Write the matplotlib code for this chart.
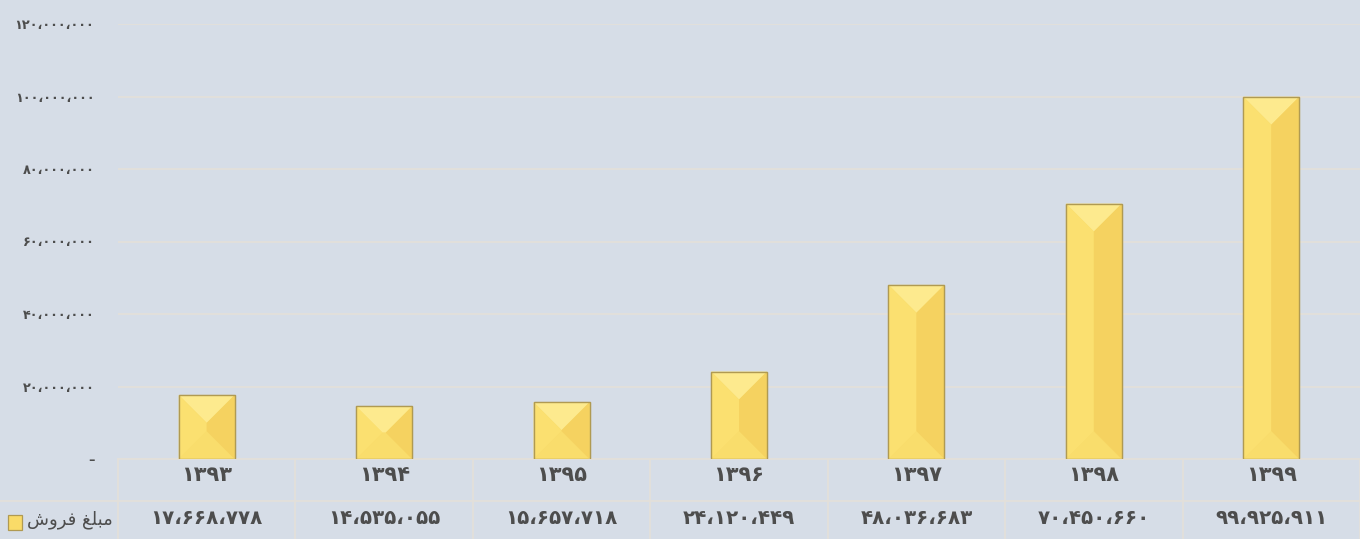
import matplotlib
matplotlib.use("Agg")
import matplotlib.pyplot as plt
from matplotlib.patches import Polygon, Rectangle

plt.rcParams['font.family'] = ['DejaVu Sans']

# chart data
years = ['۱۳۹۳', '۱۳۹۴', '۱۳۹۵', '۱۳۹۶', '۱۳۹۷', '۱۳۹۸', '۱۳۹۹']
sales = [17668778, 14535055, 15657718, 24120449, 48036683, 70450660, 99925911]
sales_labels = ['۱۷،۶۶۸،۷۷۸', '۱۴،۵۳۵،۰۵۵', '۱۵،۶۵۷،۷۱۸', '۲۴،۱۲۰،۴۴۹',
                '۴۸،۰۳۶،۶۸۳', '۷۰،۴۵۰،۶۶۰', '۹۹،۹۲۵،۹۱۱']
y_ticks = [0, 20000000, 40000000, 60000000, 80000000, 100000000, 120000000]
y_tick_labels = ['–', '۲۰،۰۰۰،۰۰۰', '۴۰،۰۰۰،۰۰۰', '۶۰،۰۰۰،۰۰۰', '۸۰،۰۰۰،۰۰۰',
                 '۱۰۰،۰۰۰،۰۰۰', '۱۲۰،۰۰۰،۰۰۰']
# "مبلغ فروش" in presentation forms (matplotlib does no Arabic shaping)
series_name = '\uFEB5\uFEED\uFEAE\uFED3 \uFECE\uFEE0\uFE92\uFEE3'

bg = '#d6dde7'
grid_c = '#e3e0da'
text_c = '#4d4d4d'
bar_c = '#fadb68'
edge_c = '#b09a52'

W, H = 1360, 539
fig = plt.figure(figsize=(W / 100, H / 100), dpi=100, facecolor=bg)
ax_left, ax_right, ax_top, ax_bot = 118, 1360, 24, 459
ax = fig.add_axes([ax_left / W, 1 - ax_bot / H, (ax_right - ax_left) / W, (ax_bot - ax_top) / H])
ax.set_facecolor(bg)

n = len(years)
ax.set_xlim(-0.5, n - 0.5)
ax.set_ylim(0, 120000000)
for s in ax.spines.values():
    s.set_visible(False)

ax.set_yticks(y_ticks)
ax.set_yticklabels(y_tick_labels, fontsize=9.3, fontweight='bold', color=text_c)
ax.tick_params(axis='y', length=0, pad=17)
ax.set_xticks([])
ax.yaxis.grid(True, color=grid_c, linewidth=1.3)
ax.set_axisbelow(True)

bars = ax.bar(range(n), sales, width=0.315, color=bar_c,
              edgecolor=edge_c, linewidth=0.8, zorder=2)

# pixel scale for the bevel
p0 = ax.transData.transform((0, 0))
p1 = ax.transData.transform((1, 1e7))
px_x = p1[0] - p0[0]
px_y = (p1[1] - p0[1]) / 1e7

face_cols = {'top': '#fdea8e', 'left': '#fbe070', 'right': '#f5d260', 'bottom': '#f9dd6c'}
for b in bars:
    x0, w, h = b.get_x(), b.get_width(), b.get_height()
    x1 = x0 + w
    e_px = min(w * px_x, h * px_y) / 2
    ex, ey = e_px / px_x, e_px / px_y
    tl, tr, bl, br = (x0, h), (x1, h), (x0, 0), (x1, 0)
    itl, itr = (x0 + ex, h - ey), (x1 - ex, h - ey)
    ibl, ibr = (x0 + ex, ey), (x1 - ex, ey)
    faces = {'top': [tl, tr, itr, itl], 'bottom': [bl, br, ibr, ibl],
             'left': [tl, itl, ibl, bl], 'right': [tr, itr, ibr, br]}
    for k, pts in faces.items():
        ax.add_patch(Polygon(pts, closed=True, facecolor=face_cols[k],
                             edgecolor='none', zorder=3))
    ax.add_patch(Rectangle((x0, 0), w, h, fill=False, edgecolor=edge_c,
                           linewidth=1.0, zorder=4))

# data table below the plot
tf = ax.get_xaxis_transform()
ah = ax_bot - ax_top
row1_y = -(475 - ax_bot) / ah
row2_y = -(519 - ax_bot) / ah
bottom = -(H - ax_bot) / ah

ax.plot([-0.5, n - 0.5], [0, 0], transform=tf, color=grid_c, lw=1.3, clip_on=False)
for i in range(n + 1):
    ax.plot([i - 0.5, i - 0.5], [0, bottom], transform=tf, color=grid_c, lw=1.3, clip_on=False)
fig.add_artist(plt.Line2D([0, 1], [1 - 501 / H, 1 - 501 / H], color=grid_c, lw=1.3,
                          transform=fig.transFigure))

for i in range(n):
    ax.text(i, row1_y, years[i], transform=tf, ha='center', va='center',
            fontsize=15, fontweight='bold', color=text_c, clip_on=False)
    ax.text(i, row2_y, sales_labels[i], transform=tf, ha='center', va='center',
            fontsize=14.3, fontweight='bold', color=text_c, clip_on=False)

# legend key
fig.text(113 / W, 1 - 520 / H, series_name, ha='right', va='center',
         fontsize=13, color=text_c)
fig.add_artist(Rectangle((8 / W, 1 - 530 / H), 14 / W, 15 / H, transform=fig.transFigure,
                         facecolor=bar_c, edgecolor=edge_c, lw=0.9))

fig.savefig('out.png', dpi=100, facecolor=bg)
